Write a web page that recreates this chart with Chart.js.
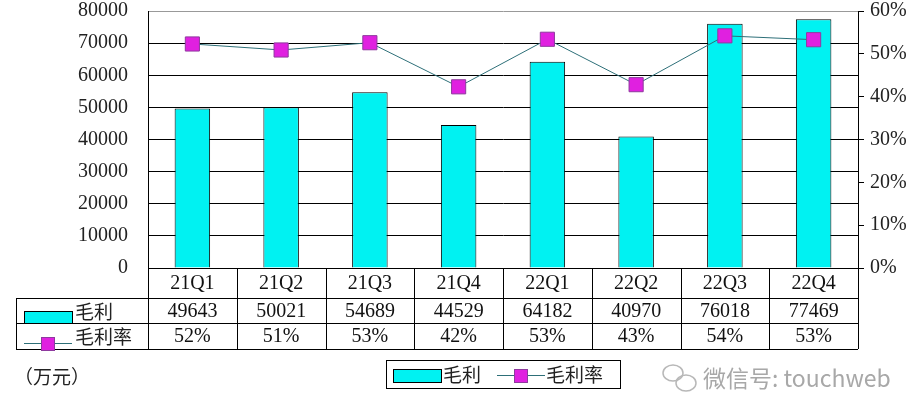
<!DOCTYPE html>
<html>
<head>
<meta charset="utf-8">
<script src="https://cdn.jsdelivr.net/npm/chart.js@4"></script>
<style>
  html, body { margin: 0; padding: 0; background: #fff; }
  #wrap { width: 921px; height: 420px; }
</style>
</head>
<body>
<div id="wrap"><canvas id="chart" width="921" height="420"></canvas></div>
<script>
// data
const quarters = ['21Q1', '21Q2', '21Q3', '21Q4', '22Q1', '22Q2', '22Q3', '22Q4'];
const grossProfit = [49643, 50021, 54689, 44529, 64182, 40970, 76018, 77469];
const grossMargin = [52.3, 50.9, 52.6, 42.3, 53.4, 42.8, 54.2, 53.3];
const leftTicks = [0, 10000, 20000, 30000, 40000, 50000, 60000, 70000, 80000];
const rightTicks = [0, 10, 20, 30, 40, 50, 60];

const SERIF = '"Liberation Serif", "Noto Sans CJK SC", serif';
const CJK = '"Noto Sans CJK SC", "Liberation Serif", sans-serif';
const CYAN = '#00f2f2';
const MAGENTA = '#e020e0';
const MARK_BORDER = '#8e3a9e';
const LINE = '#2d6f78';

// table under the plot, legend box, unit text and watermark
const tablePlugin = {
  id: 'dataTable',
  afterDraw(chart) {
    const ctx = chart.ctx;
    const area = chart.chartArea;
    const xs = chart.scales.x;
    const left = area.left, right = area.right, bottom = area.bottom;
    const rowH = [30, 25, 26];
    const r1 = bottom + rowH[0], r2 = r1 + rowH[1], r3 = r2 + rowH[2];
    const tableLeft = 16;
    const colW = (right - left) / quarters.length;

    ctx.save();
    ctx.strokeStyle = '#000';
    ctx.lineWidth = 1;
    ctx.beginPath();
    // horizontal lines
    ctx.moveTo(left, bottom + 0.5); ctx.lineTo(right, bottom + 0.5);
    [r1, r2, r3].forEach(y => { ctx.moveTo(tableLeft, y + 0.5); ctx.lineTo(right, y + 0.5); });
    // vertical lines
    ctx.moveTo(tableLeft + 0.5, r1); ctx.lineTo(tableLeft + 0.5, r3);
    for (let i = 0; i <= quarters.length; i++) {
      const x = Math.round(left + i * colW) + 0.5;
      ctx.moveTo(x, bottom); ctx.lineTo(x, r3);
    }
    ctx.stroke();

    ctx.fillStyle = '#111';
    ctx.textAlign = 'center';
    ctx.textBaseline = 'middle';
    ctx.font = '20px ' + SERIF;
    quarters.forEach((q, i) => {
      const cx = xs.getPixelForValue(i);
      ctx.fillText(q, cx, bottom + rowH[0] / 2 + 1);
      ctx.fillText(String(grossProfit[i]), cx, r1 + rowH[1] / 2 + 1);
      ctx.fillText(Math.round(grossMargin[i]) + '%', cx, r2 + rowH[2] / 2 + 1);
    });

    // row headers
    drawBarKey(ctx, 24, r1 + 13, 48, 12);
    drawLineKey(ctx, 24, r2 + 20, 48);
    ctx.textAlign = 'left';
    ctx.font = '19px ' + CJK;
    ctx.fillStyle = '#222';
    ctx.fillText('毛利', 75, r1 + rowH[1] / 2 + 1);
    ctx.fillText('毛利率', 75, r2 + rowH[2] / 2 + 1);

    // legend box
    ctx.strokeStyle = '#000';
    ctx.strokeRect(386.5, 360.5, 234, 28);
    drawBarKey(ctx, 393, 369, 48, 13);
    ctx.fillStyle = '#222';
    ctx.fillText('毛利', 443, 375);
    drawLineKey(ctx, 497, 375, 48);
    ctx.fillStyle = '#222';
    ctx.fillText('毛利率', 546, 375);

    // unit
    ctx.fillText('（万元）', 14, 377);

    // watermark
    ctx.strokeStyle = '#b8b8b8';
    ctx.lineWidth = 1.5;
    ctx.beginPath();
    ctx.ellipse(673, 373, 10, 8, 0, 0, Math.PI * 2);
    ctx.stroke();
    ctx.beginPath();
    ctx.ellipse(686, 383, 10, 8, 0, 0, Math.PI * 2);
    ctx.stroke();
    ctx.fillStyle = '#a8a8a8';
    ctx.font = '23px ' + CJK;
    ctx.fillText('微信号: touchweb', 703, 378);
    ctx.restore();
  }
};

function drawBarKey(ctx, x, y, w, h) {
  ctx.fillStyle = CYAN;
  ctx.fillRect(x, y, w, h);
  ctx.strokeStyle = '#000';
  ctx.lineWidth = 1;
  ctx.strokeRect(x + 0.5, y + 0.5, w, h);
}

function drawLineKey(ctx, x, y, w) {
  ctx.strokeStyle = LINE;
  ctx.lineWidth = 1;
  ctx.beginPath();
  ctx.moveTo(x, y + 0.5); ctx.lineTo(x + w, y + 0.5);
  ctx.stroke();
  ctx.fillStyle = MAGENTA;
  ctx.fillRect(x + w / 2 - 7, y - 6, 14, 14);
  ctx.strokeStyle = MARK_BORDER;
  ctx.strokeRect(x + w / 2 - 7 + 0.5, y - 6 + 0.5, 13, 13);
}

function fitAxis(width) {
  return s => {
    s.width = width;
    s.paddingTop = 0;
    s.paddingBottom = 0;
  };
}

new Chart(document.getElementById('chart'), {
  type: 'bar',
  data: {
    labels: quarters,
    datasets: [
      {
        type: 'line',
        label: '毛利率',
        data: grossMargin,
        yAxisID: 'y1',
        borderColor: LINE,
        borderWidth: 1,
        pointStyle: 'rect',
        pointRadius: 10,
        pointBackgroundColor: MAGENTA,
        pointBorderColor: MARK_BORDER,
        pointBorderWidth: 1,
        tension: 0,
      },
      {
        label: '毛利',
        data: grossProfit,
        yAxisID: 'y',
        backgroundColor: CYAN,
        borderColor: '#000',
        borderWidth: 1,
        categoryPercentage: 1,
        barPercentage: 0.4,
      },
    ],
  },
  options: {
    responsive: false,
    animation: false,
    layout: { padding: { top: 11, bottom: 152 } },
    plugins: { legend: { display: false }, tooltip: { enabled: false } },
    scales: {
      x: { display: false },
      y: {
        position: 'left',
        min: 0,
        max: 80000,
        afterBuildTicks: s => { s.ticks = leftTicks.map(v => ({ value: v })); },
        afterFit: fitAxis(148),
        ticks: { color: '#222', font: { family: SERIF, size: 20 }, padding: 20, callback: v => String(v) },
        grid: {
          drawTicks: false,
          color: ctx => ctx.tick && ctx.tick.value === 80000 ? '#999' : '#000',
        },
        border: { color: '#000' },
      },
      y1: {
        position: 'right',
        min: 0,
        max: 60,
        afterBuildTicks: s => { s.ticks = rightTicks.map(v => ({ value: v })); },
        afterFit: fitAxis(63),
        ticks: { color: '#222', font: { family: SERIF, size: 20 }, padding: 6, callback: v => v + '%' },
        grid: { drawOnChartArea: false, drawTicks: true, tickLength: 6, color: '#000' },
        border: { color: '#000' },
      },
    },
  },
  plugins: [tablePlugin],
});
</script>
</body>
</html>
